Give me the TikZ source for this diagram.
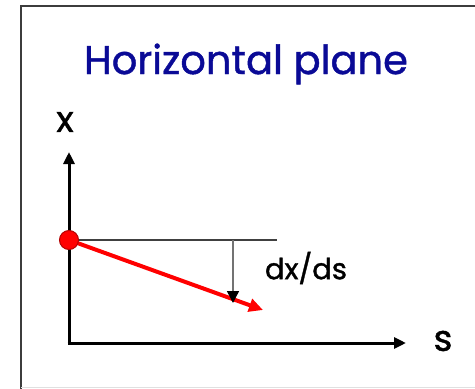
\documentclass[tikz,border=0pt]{standalone}
\usepackage{fontspec}
\setmainfont{Poppins}[FakeBold=1.2]
\newfontfamily\heavyfont{Poppins}[FakeBold=1.1]
\usetikzlibrary{arrows.meta}
\definecolor{titleblue}{RGB}{10,10,150}
\definecolor{framegray}{RGB}{60,60,60}
\begin{document}
\begin{tikzpicture}[x=1pt,y=-1pt,
  axis/.style={line width=3pt,-{Triangle[length=12pt,width=11pt]}},
  lbl/.style={inner sep=0pt,anchor=center},
  redarrow/.style={red,line width=4pt,-{Triangle[length=14pt,width=13pt]}},
  grayarrow/.style={black!55,line width=1.4pt,-{Triangle[length=12pt,width=12pt,color=black]}}]
\useasboundingbox (0,0) rectangle (475,389);
% frame
\draw[framegray,line width=2.2pt] (21,389) -- (21,6) -- (475,6);
\draw[black!12,line width=1pt] (21,387.5) -- (475,387.5);
% title
\node[lbl,text=titleblue,font=\heavyfont\fontsize{40}{44}\selectfont] (title) at (246,64) {Horizontal plane};
% axes
\coordinate (O) at (69,343);
\coordinate (ytip) at (69,152);
\coordinate (stip) at (406,343);
\draw[axis] (69,344.5) -- (ytip);
\draw[axis] (67.5,343) -- (stip);
\node[lbl,font=\fontsize{36}{40}\selectfont] (xlab) at (65,122) {x};
\node[lbl,font=\fontsize{36}{40}\selectfont] (slab) at (443,341) {s};
% horizontal reference line
\coordinate (P) at (69,240);
\coordinate (hend) at (277,240);
\draw[black!75,line width=2pt] (P) -- (hend);
% red direction arrow
\coordinate (rtip) at (263,310);
\draw[redarrow] (P) -- (rtip);
% gray dx/ds arrow
\coordinate (gtop) at (233,240);
\coordinate (gtip) at (233,303);
\draw[grayarrow] (gtop) -- (gtip);
\node[lbl,font=\fontsize{29}{32}\selectfont] (dxds) at (306,268) {dx/ds};
% red dot
\node[circle,fill=red,draw=red!70!black,line width=1pt,minimum size=19pt,inner sep=0pt] (dot) at (P) {};
\end{tikzpicture}
\end{document}
